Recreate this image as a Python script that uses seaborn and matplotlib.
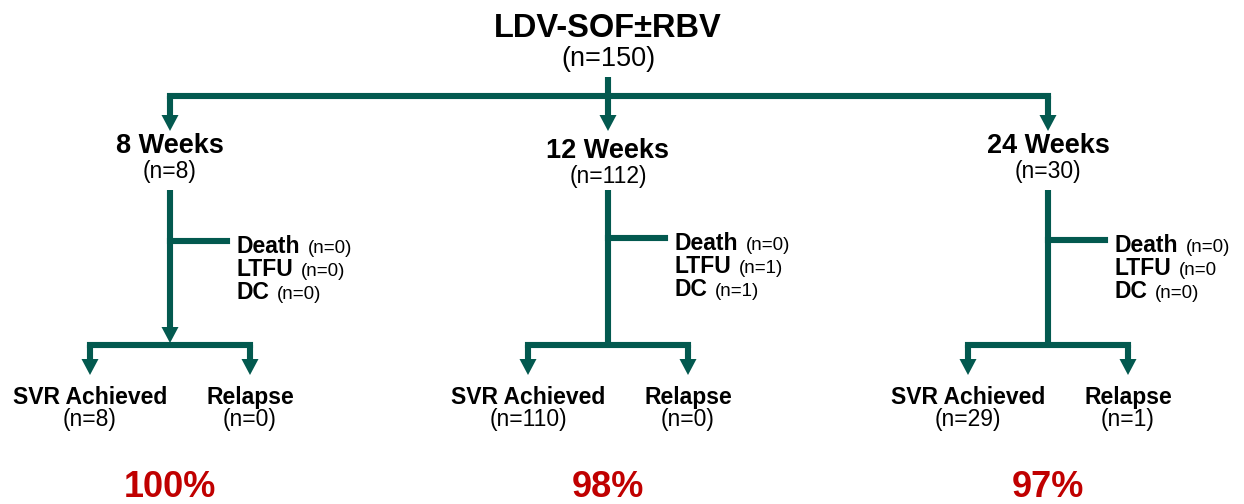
"""
Flow diagram of LDV-SOF±RBV treatment arms and outcomes.
"""

import matplotlib
matplotlib.use('Agg')
import matplotlib.pyplot as plt
import seaborn as sns

# ---- data ----
regimen = 'LDV-SOF±RBV'
total_n = 150
arm_labels = ['8 Weeks', '12 Weeks', '24 Weeks']
arm_n = [8, 112, 30]
exit_names = ['Death', 'LTFU', 'DC']
death_labels = ['(n=0)', '(n=0)', '(n=0)']
ltfu_labels = ['(n=0)', '(n=1)', '(n=0']
dc_labels = ['(n=0)', '(n=1)', '(n=0)']
svr_n = [8, 110, 29]
relapse_n = [0, 0, 1]
svr_pct = [100, 98, 97]

# ---- layout (pixels, origin top-left) ----
W, H = 1244, 504
LINE = '#03594F'
RED = '#C00000'
LW = 4.4
arm_x = [170, 608, 1048]
arm_base = [153, 158, 153]        # baseline of "N Weeks"
side_y = [241, 238, 240]
branch_y = 345
branch_half = 80
HEAD_W, HEAD_L = 17, 16

sns.set_theme(style='white')
plt.rcParams['font.family'] = ['Liberation Sans', 'DejaVu Sans']
plt.rcParams['text.color'] = 'black'

fig = plt.figure(figsize=(W / 100, H / 100), dpi=100)
ax = fig.add_axes([0, 0, 1, 1])
ax.set_xlim(0, W)
ax.set_ylim(H, 0)
ax.axis('off')


def seg(x0, y0, x1, y1):
    ax.plot([x0, x1], [y0, y1], color=LINE, lw=LW, solid_capstyle='projecting')


def arrow_down(x, y0, tip):
    ax.plot([x, x], [y0, tip - HEAD_L + 1], color=LINE, lw=LW, solid_capstyle='butt')
    ax.fill([x - HEAD_W / 2, x + HEAD_W / 2, x], [tip - HEAD_L, tip - HEAD_L, tip],
            color=LINE, lw=0)


# header
ax.text(608, 37, regimen, ha='center', va='baseline', fontsize=23.5, fontweight='bold')
ax.text(608, 66, f'(n={total_n})', ha='center', va='baseline', fontsize=19.5)

ax.plot([608, 608], [77, 96], color=LINE, lw=LW, solid_capstyle='butt')
seg(arm_x[0], 96, arm_x[-1], 96)
for x in arm_x:
    arrow_down(x, 96, 131)

fig.canvas.draw()
renderer = fig.canvas.get_renderer()

exit_rows = [death_labels, ltfu_labels, dc_labels]
for i, x in enumerate(arm_x):
    base = arm_base[i]
    ax.text(x, base, arm_labels[i], ha='center', va='baseline', fontsize=19.5, fontweight='bold')
    ax.text(x, base + 25, f'(n={arm_n[i]})', ha='center', va='baseline', fontsize=16.5)

    # trunk down to outcome branch
    if i == 0:
        arrow_down(x, 190, branch_y - 2)
    else:
        ax.plot([x, x], [190, branch_y], color=LINE, lw=LW, solid_capstyle='butt')

    # side exit branch
    sy = side_y[i]
    seg(x, sy, x + 57, sy)
    tx = x + 67
    for j, name in enumerate(exit_names):
        yb = sy + 12 + j * 23
        t = ax.text(tx, yb, name, ha='left', va='baseline', fontsize=16.5, fontweight='bold')
        bb = t.get_window_extent(renderer=renderer)
        x_end = ax.transData.inverted().transform((bb.x1, bb.y0))[0]
        ax.text(x_end + 7, yb, exit_rows[j][i], ha='left', va='baseline', fontsize=13.5)

    # outcome branch
    xl, xr = x - branch_half, x + branch_half
    seg(xl, branch_y, xr, branch_y)
    arrow_down(xl, branch_y, 375)
    arrow_down(xr, branch_y, 375)

    ax.text(xl, 404, 'SVR Achieved', ha='center', va='baseline', fontsize=16.5, fontweight='bold')
    ax.text(xl, 426, f'(n={svr_n[i]})', ha='center', va='baseline', fontsize=16.5)
    ax.text(xr, 404, 'Relapse', ha='center', va='baseline', fontsize=16.5, fontweight='bold')
    ax.text(xr, 426, f'(n={relapse_n[i]})', ha='center', va='baseline', fontsize=16.5)

    ax.text(x, 497, f'{svr_pct[i]}%', ha='center', va='baseline', fontsize=26,
            fontweight='bold', color=RED)

fig.savefig('out.png', dpi=100, facecolor='white')
plt.close(fig)
